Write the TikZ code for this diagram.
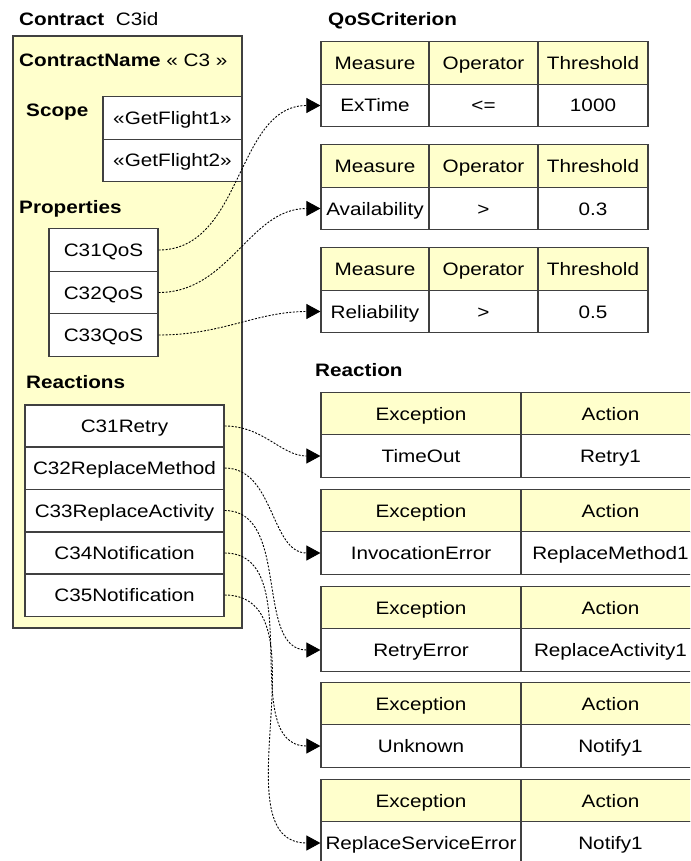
\documentclass[tikz,border=0pt]{standalone}
\usepackage{fontspec}
\setmainfont{Liberation Sans}[FakeStretch=1.15]
\usepackage{xcolor}
\usetikzlibrary{arrows.meta}

\definecolor{ctyellow}{HTML}{FFFFCC}
\definecolor{ctline}{HTML}{404040}

\begin{document}
\begin{tikzpicture}[
    x=1pt, y=-1pt,
    font=\fontsize{18}{21}\selectfont,
    >={Triangle[length=14pt,width=15pt]}
]

\tikzstyle{cell}=[
    rectangle,
    draw=ctline,
    line width=1.2pt,
    fill=white,
    inner sep=1pt,
    text height=15pt,
    text depth=2pt,
    minimum height=42.5
]
\tikzstyle{head}=[cell, fill=ctyellow]
\tikzstyle{title}=[anchor=base west, inner sep=0pt]
\tikzstyle{link}=[->, black, line width=0.9pt, dash pattern=on 2pt off 1.5pt]

\useasboundingbox (0,0) rectangle (690,861);
\clip (0,0) rectangle (690,861);

\node[title] (ctitle) at (19,26) {\textbf{Contract}\ \ C3id};
\node[cell, fill=ctyellow, minimum width=229, minimum height=592] (contract) at (127.5,332) {};
\node[title] (cname) at (19,67) {\textbf{ContractName} « C3 »};

\node[title] (scope) at (26,117) {\textbf{Scope}};
\node[cell, minimum width=139] (s1) at (172.5,118) {«GetFlight1»};
\node[cell, minimum width=139] (s2) at (172.5,160.5) {«GetFlight2»};

\node[title] (props) at (19,213) {\textbf{Properties}};
\node[cell, minimum width=109] (q1) at (103.5,250) {C31QoS};
\node[cell, minimum width=109] (q2) at (103.5,292.5) {C32QoS};
\node[cell, minimum width=109] (q3) at (103.5,335) {C33QoS};

\node[title] (reacts) at (26,388) {\textbf{Reactions}};
\node[cell, minimum width=199, minimum height=42.2] (r1) at (124.5,426) {C31Retry};
\node[cell, minimum width=199, minimum height=42.2] (r2) at (124.5,468) {C32ReplaceMethod};
\node[cell, minimum width=199, minimum height=42.2] (r3) at (124.5,510.5) {C33ReplaceActivity};
\node[cell, minimum width=199, minimum height=42.2] (r4) at (124.5,553) {C34Notification};
\node[cell, minimum width=199, minimum height=42.2] (r5) at (124.5,595) {C35Notification};

\node[title] (qos) at (328,26) {\textbf{QoSCriterion}};

\node[head, minimum width=108] at (375,63) {Measure};
\node[head, minimum width=109] at (483.5,63) {Operator};
\node[head, minimum width=110] at (593,63) {Threshold};
\node[cell, minimum width=108] (m1) at (375,105.5) {ExTime};
\node[cell, minimum width=109] at (483.5,105.5) {<=};
\node[cell, minimum width=110] at (593,105.5) {1000};

\node[head, minimum width=108] at (375,166) {Measure};
\node[head, minimum width=109] at (483.5,166) {Operator};
\node[head, minimum width=110] at (593,166) {Threshold};
\node[cell, minimum width=108] (m2) at (375,208.5) {Availability};
\node[cell, minimum width=109] at (483.5,208.5) {>};
\node[cell, minimum width=110] at (593,208.5) {0.3};

\node[head, minimum width=108] at (375,269) {Measure};
\node[head, minimum width=109] at (483.5,269) {Operator};
\node[head, minimum width=110] at (593,269) {Threshold};
\node[cell, minimum width=108] (m3) at (375,311.5) {Reliability};
\node[cell, minimum width=109] at (483.5,311.5) {>};
\node[cell, minimum width=110] at (593,311.5) {0.5};

\node[title] (reaction) at (315,376) {\textbf{Reaction}};

\node[head, minimum width=200] at (421,414) {Exception};
\node[head, minimum width=179] at (610.5,414) {Action};
\node[cell, minimum width=200] (e1) at (421,456) {TimeOut};
\node[cell, minimum width=179] at (610.5,456) {Retry1};

\node[head, minimum width=200] at (421,511) {Exception};
\node[head, minimum width=179] at (610.5,511) {Action};
\node[cell, minimum width=200] (e2) at (421,553) {InvocationError};
\node[cell, minimum width=179] at (610.5,553) {ReplaceMethod1};

\node[head, minimum width=200] at (421,607.5) {Exception};
\node[head, minimum width=179] at (610.5,607.5) {Action};
\node[cell, minimum width=200] (e3) at (421,650) {RetryError};
\node[cell, minimum width=179] at (610.5,650) {ReplaceActivity1};

\node[head, minimum width=200] at (421,704) {Exception};
\node[head, minimum width=179] at (610.5,704) {Action};
\node[cell, minimum width=200] (e4) at (421,746) {Unknown};
\node[cell, minimum width=179] at (610.5,746) {Notify1};

\node[head, minimum width=200] at (421,800.5) {Exception};
\node[head, minimum width=179] at (610.5,800.5) {Action};
\node[cell, minimum width=200] (e5) at (421,843) {ReplaceServiceError};
\node[cell, minimum width=179] at (610.5,843) {Notify1};

\draw[link] (q1.east) to[out=0, in=180] (m1.west);
\draw[link] (q2.east) to[out=0, in=180] (m2.west);
\draw[link] (q3.east) to[out=0, in=180] (m3.west);

\draw[link] (r1.east) to[out=0, in=180] (e1.west);
\draw[link] (r2.east) to[out=0, in=180] (e2.west);
\draw[link] (r3.east) to[out=0, in=180] (e3.west);
\draw[link] (r4.east) to[out=0, in=180] (e4.west);
\draw[link] (r5.east) to[out=0, in=180] (e5.west);

\end{tikzpicture}
\end{document}
